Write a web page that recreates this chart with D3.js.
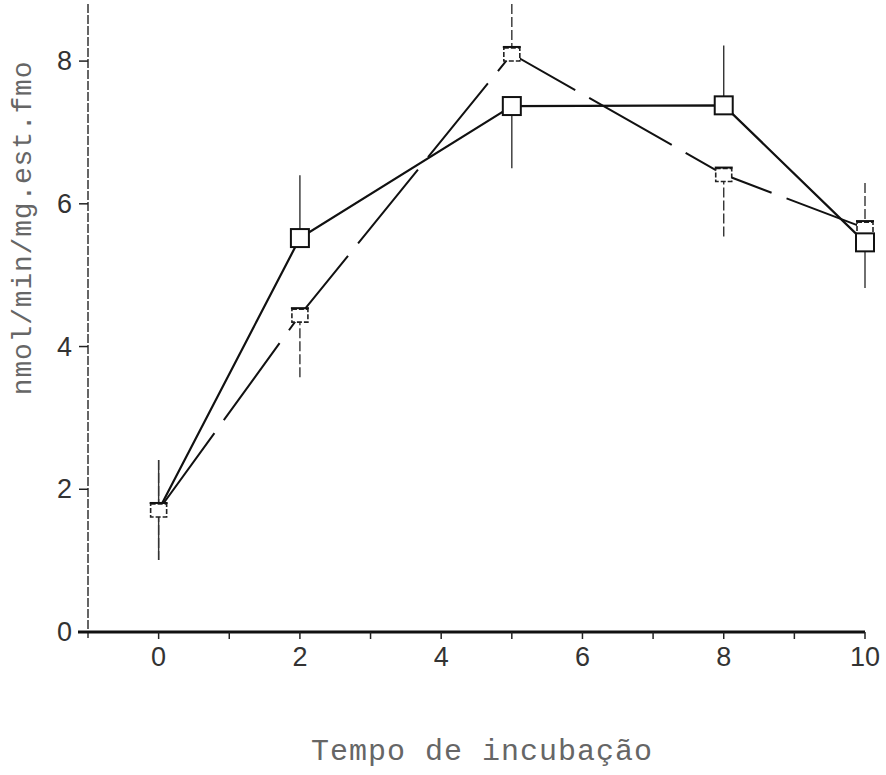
<!DOCTYPE html>
<html>
<head>
<meta charset="utf-8">
<script src="https://cdn.jsdelivr.net/npm/d3@7"></script>
<style>
  body { margin: 0; background: #fff; }
  svg { display: block; }
</style>
</head>
<body>
<svg id="chart"></svg>
<script>
// incubation time (x) and the two series
const times = [0, 2, 5, 8, 10];
const seriesA = [1.71, 5.52, 7.37, 7.38, 5.46];
const errorsA = [0.70, 0.88, 0.87, 0.84, 0.64];
const seriesB = [1.71, 4.44, 8.10, 6.41, 5.66];
const errorsB = [0.70, 0.87, 0.70, 0.89, 0.63];

const xTicks = [0, 1, 2, 3, 4, 5, 6, 7, 8, 9, 10];
const xTickLabels = [0, 2, 4, 6, 8, 10];
const yTicks = [0, 2, 4, 6, 8];

const xTitle = 'Tempo de incubação';
const yTitle = 'nmol/min/mg.est.fmo';

const dim = { width: 886, height: 775 };

const svg = d3.select('#chart')
  .attr('width', dim.width)
  .attr('height', dim.height);

const x = d3.scaleLinear().domain([-1, 10]).range([88, 865]);
const y = d3.scaleLinear().domain([0, 8.8]).range([632, 4]);

const tickFont = '"Liberation Sans Narrow", "Liberation Sans", sans-serif';
const titleFont = '"Liberation Mono", "DejaVu Sans Mono", monospace';

// y axis: thin scanned-looking line with ticks to the left
svg.append('line')
  .attr('x1', x(-1)).attr('x2', x(-1))
  .attr('y1', y(8.8)).attr('y2', y(0) + 6)
  .attr('stroke', '#333')
  .attr('stroke-width', 1.5)
  .attr('stroke-dasharray', '9,2');

yTicks.forEach(v => {
  svg.append('line')
    .attr('x1', x(-1) - 9).attr('x2', x(-1))
    .attr('y1', y(v)).attr('y2', y(v))
    .attr('stroke', '#222')
    .attr('stroke-width', 1.5);
  svg.append('text')
    .attr('x', x(-1) - 16)
    .attr('y', y(v) + 9)
    .attr('text-anchor', 'end')
    .attr('font-family', tickFont)
    .attr('font-size', 27)
    .attr('fill', '#333')
    .text(v);
});

// x axis: heavy baseline, small ticks at every unit
svg.append('line')
  .attr('x1', x(-1) - 10).attr('x2', x(10))
  .attr('y1', y(0)).attr('y2', y(0))
  .attr('stroke', '#111')
  .attr('stroke-width', 3);

xTicks.forEach(v => {
  svg.append('line')
    .attr('x1', x(v)).attr('x2', x(v))
    .attr('y1', y(0)).attr('y2', y(0) + 7)
    .attr('stroke', '#222')
    .attr('stroke-width', 1.5);
});

xTickLabels.forEach(v => {
  svg.append('text')
    .attr('x', x(v))
    .attr('y', y(0) + 34)
    .attr('text-anchor', 'middle')
    .attr('font-family', tickFont)
    .attr('font-size', 27)
    .attr('fill', '#333')
    .text(v);
});

// axis titles in a typewriter face
svg.append('text')
  .attr('x', 482)
  .attr('y', 760)
  .attr('text-anchor', 'middle')
  .attr('font-family', titleFont)
  .attr('font-size', 30)
  .attr('letter-spacing', 1)
  .attr('fill', '#666')
  .text(xTitle);

svg.append('text')
  .attr('transform', 'translate(31,228) rotate(-90)')
  .attr('text-anchor', 'middle')
  .attr('font-family', titleFont)
  .attr('font-size', 28)
  .attr('letter-spacing', 0.8)
  .attr('fill', '#666')
  .text(yTitle);

// error bars: drawn outward only, full where both series meet
function drawErrors(values, errors, other, dash) {
  values.forEach((v, i) => {
    const up = v >= other[i];
    const down = v <= other[i];
    const top = up ? v + errors[i] : v;
    const bottom = down ? v - errors[i] : v;
    svg.append('line')
      .attr('x1', x(times[i])).attr('x2', x(times[i]))
      .attr('y1', y(Math.min(top, 8.8))).attr('y2', y(bottom))
      .attr('stroke', '#333')
      .attr('stroke-width', 1.4)
      .attr('stroke-dasharray', dash);
  });
}

drawErrors(seriesA, errorsA, seriesB, null);
drawErrors(seriesB, errorsB, seriesA, '10,3');

const line = d3.line()
  .x((d, i) => x(times[i]))
  .y(d => y(d));

svg.append('path')
  .datum(seriesB)
  .attr('d', line)
  .attr('fill', 'none')
  .attr('stroke', '#111')
  .attr('stroke-width', 2)
  .attr('stroke-dasharray', '95,16');

svg.append('path')
  .datum(seriesA)
  .attr('d', line)
  .attr('fill', 'none')
  .attr('stroke', '#111')
  .attr('stroke-width', 2.2);

// series B markers: short boxes with a bar across the top
seriesB.forEach((v, i) => {
  const cx = x(times[i]);
  const cy = y(v);
  svg.append('rect')
    .attr('x', cx - 8).attr('y', cy - 6)
    .attr('width', 16).attr('height', 13)
    .attr('fill', '#fff')
    .attr('stroke', '#222')
    .attr('stroke-width', 1.6)
    .attr('stroke-dasharray', '5,2');
  svg.append('line')
    .attr('x1', cx - 9).attr('x2', cx + 9)
    .attr('y1', cy - 7).attr('y2', cy - 7)
    .attr('stroke', '#111')
    .attr('stroke-width', 2);
});

// series A markers: open squares
seriesA.forEach((v, i) => {
  if (i === 0) return; // shares the first point with series B
  const cx = x(times[i]);
  const cy = y(v);
  svg.append('rect')
    .attr('x', cx - 9).attr('y', cy - 9)
    .attr('width', 18).attr('height', 18)
    .attr('fill', '#fff')
    .attr('stroke', '#111')
    .attr('stroke-width', 2);
});
</script>
</body>
</html>
